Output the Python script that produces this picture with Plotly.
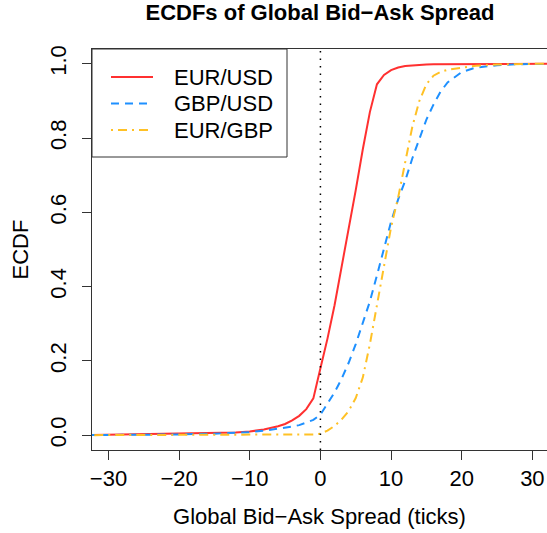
import plotly.graph_objects as go

# Spread grid (ticks) at which the empirical CDFs are evaluated
spread = [-33, -30, -25, -20, -15, -12, -10, -8, -6, -5, -4, -3, -2, -1,
          0, 1, 2, 3, 4, 5, 6, 7, 8, 9, 10, 11, 12, 13, 14, 15, 16, 17,
          18, 19, 20, 22, 25, 28, 30, 33]

ecdf_eurusd = [0.000, 0.001, 0.002, 0.003, 0.005, 0.007, 0.010, 0.015, 0.024, 0.030, 0.040, 0.052, 0.070, 0.099,
               0.180, 0.260, 0.350, 0.450, 0.555, 0.660, 0.770, 0.870, 0.945, 0.970, 0.983, 0.990, 0.994, 0.996, 0.997, 0.998, 0.999, 0.999,
               1.000, 1.000, 1.000, 1.000, 1.000, 1.000, 1.000, 1.000]

ecdf_gbpusd = [0.000, 0.000, 0.001, 0.002, 0.004, 0.006, 0.008, 0.012, 0.017, 0.020, 0.023, 0.027, 0.033, 0.041,
               0.055, 0.085, 0.115, 0.152, 0.195, 0.245, 0.300, 0.360, 0.430, 0.505, 0.575, 0.635, 0.685, 0.745, 0.800, 0.850, 0.890, 0.925,
               0.950, 0.965, 0.978, 0.990, 0.996, 0.999, 1.000, 1.000]

ecdf_eurgbp = [0.000, 0.000, 0.000, 0.000, 0.000, 0.000, 0.001, 0.001, 0.001, 0.001, 0.001, 0.001, 0.001, 0.002,
               0.004, 0.012, 0.025, 0.042, 0.065, 0.100, 0.155, 0.245, 0.350, 0.460, 0.560, 0.640, 0.735, 0.830, 0.900, 0.945, 0.968, 0.978,
               0.984, 0.987, 0.990, 0.995, 0.998, 1.000, 1.000, 1.000]

series_names = ["EUR/USD", "GBP/USD", "EUR/GBP"]
series_colors = ["#FF3030", "#1E90FF", "#FFC125"]
series_dashes = ["solid", "8px,6px", "2px,5px,9px,5px"]

x_ticks = [-30, -20, -10, 0, 10, 20, 30]
y_ticks = [0.0, 0.2, 0.4, 0.6, 0.8, 1.0]

FONT = "Liberation Sans, Arial, Helvetica, sans-serif"
W, H = 547, 533
L, R, T, B = 92, 0, 49, 83
PW, PH = W - L - R, H - T - B


def px_x(px):
    """Figure pixel column -> paper x fraction."""
    return (px - L) / PW


def px_y(py):
    """Figure pixel row -> paper y fraction."""
    return (H - B - py) / PH


fig = go.Figure()
series = [ecdf_eurusd, ecdf_gbpusd, ecdf_eurgbp]
for name, ys, col, dash in zip(series_names, series, series_colors, series_dashes):
    fig.add_trace(go.Scatter(x=spread, y=ys, mode="lines", name=name, showlegend=False,
                             line=dict(color=col, width=2, dash=dash)))

# reference line at zero spread
fig.add_shape(type="line", x0=0, x1=0, xref="x", y0=0, y1=1, yref="paper",
              line=dict(color="black", width=1.5, dash="1.5px,6px"), layer="above")

# boxed key in the top-left corner of the plot
fig.add_shape(type="rect", xref="paper", yref="paper",
              x0=0, x1=px_x(287), y0=px_y(157), y1=1,
              fillcolor="white", line=dict(color="#333", width=1), layer="above")
row_y = [77, 103.5, 130]
for name, col, dash, ry in zip(series_names, series_colors, series_dashes, row_y):
    fig.add_shape(type="line", xref="paper", yref="paper",
                  x0=px_x(111), x1=px_x(153), y0=px_y(ry), y1=px_y(ry),
                  line=dict(color=col, width=2, dash=dash), layer="above")
    fig.add_annotation(text=name, xref="paper", yref="paper", x=px_x(172), y=px_y(ry),
                       xanchor="left", yanchor="middle", showarrow=False,
                       font=dict(size=22, family=FONT, color="black"))

fig.update_layout(
    width=W, height=H,
    margin=dict(l=L, r=R, t=T, b=B, pad=0),
    paper_bgcolor="white", plot_bgcolor="white",
    font=dict(family=FONT, size=22, color="black"),
    showlegend=False,
    title=dict(text="ECDFs of Global Bid\u2212Ask Spread", x=320 / W, xref="container",
               xanchor="center", y=1 - 12 / H, yref="container", yanchor="middle",
               font=dict(size=22, family=FONT, weight="bold")),
    xaxis=dict(range=[-32.33, 32.07], tickvals=x_ticks, ticks="outside", ticklen=9,
               tickcolor="#333", showline=True, linecolor="#333", linewidth=1, mirror=True,
               showgrid=False, zeroline=False,
               title=dict(text="Global Bid\u2212Ask Spread (ticks)", standoff=18,
                          font=dict(size=22))),
    yaxis=dict(range=[-0.04, 1.04], tickvals=y_ticks, tickformat=".1f", tickangle=-90,
               ticks="outside", ticklen=9, tickcolor="#333", showline=True, linecolor="#333",
               linewidth=1, showgrid=False, zeroline=False, ticklabelstandoff=7,
               title=dict(text="ECDF", standoff=11, font=dict(size=22))),
)

fig.write_html("out.html")
